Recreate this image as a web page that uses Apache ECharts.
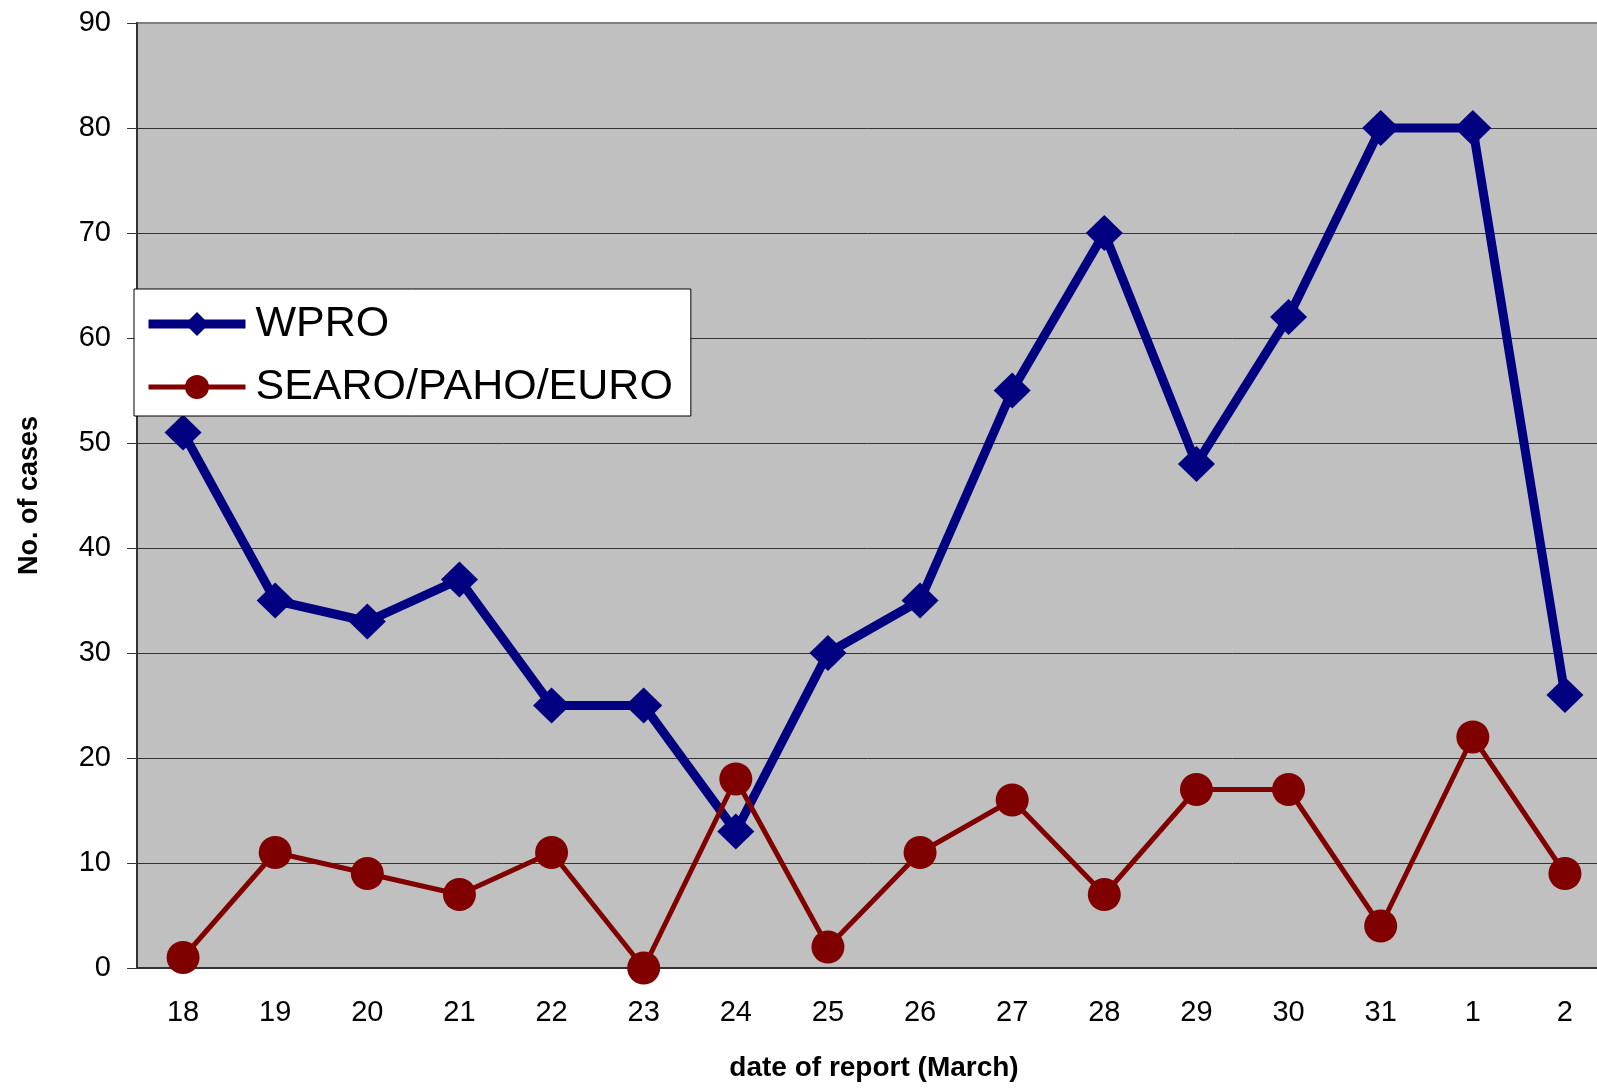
<!DOCTYPE html>
<html>
<head>
<meta charset="utf-8">
<script src="https://cdn.jsdelivr.net/npm/echarts@6/dist/echarts.min.js"></script>
<style>
  html, body { margin: 0; padding: 0; background: #fff; }
  #chart { width: 1597px; height: 1090px; }
</style>
</head>
<body>
<div id="chart"></div>
<script>
var days = ["18", "19", "20", "21", "22", "23", "24", "25", "26", "27", "28", "29", "30", "31", "1", "2"];
var wpro = [51, 35, 33, 37, 25, 25, 13, 30, 35, 55, 70, 48, 62, 80, 80, 26];
var searo = [1, 11, 9, 7, 11, 0, 18, 2, 11, 16, 7, 17, 17, 4, 22, 9];

var font = "Liberation Sans, Arial, sans-serif";
var myChart = echarts.init(document.getElementById("chart"));
var option = {
  animation: false,
  textStyle: { fontFamily: font },
  grid: {
    left: 137,
    top: 23,
    bottom: 122,
    right: -14,
    outerBoundsMode: "none",
    containLabel: false,
    show: true,
    backgroundColor: "#c0c0c0",
    borderColor: "#808080",
    borderWidth: 2,
  },
  legend: {
    orient: "vertical",
    left: 134,
    top: 289,
    backgroundColor: "#fff",
    borderColor: "#000",
    borderWidth: 1,
    borderRadius: 0,
    padding: [13, 18, 7, 10],
    itemGap: 19,
    itemWidth: 97,
    itemHeight: 30,
    data: [
      { name: "WPRO", lineStyle: { width: 9 } },
      { name: "SEARO/PAHO/EURO", lineStyle: { width: 5 } },
    ],
    textStyle: { fontSize: 43, color: "#000", fontFamily: font, lineHeight: 44, padding: [0, 0, 0, 5] },
  },
  xAxis: {
    type: "category",
    data: days,
    name: "date of report (March)",
    nameLocation: "middle",
    nameGap: 86,
    nameTextStyle: { fontSize: 28, fontWeight: "bold", color: "#000" },
    axisLine: { lineStyle: { color: "#333", width: 2 } },
    axisTick: { length: 9, lineStyle: { color: "#333", width: 1 } },
    axisLabel: { fontSize: 29, color: "#000", margin: 30 },
  },
  yAxis: {
    type: "value",
    min: 0,
    max: 90,
    interval: 10,
    name: "No. of cases",
    nameLocation: "middle",
    nameGap: 94,
    nameTextStyle: { fontSize: 27, fontWeight: "bold", color: "#000" },
    axisLine: { show: true, lineStyle: { color: "#333", width: 2 } },
    axisTick: { show: true, length: 10, lineStyle: { color: "#333", width: 1 } },
    axisLabel: { fontSize: 29, color: "#000", margin: 26 },
    splitLine: {
      lineStyle: {
        color: ["#333", "#333", "#333", "#333", "#333", "#333", "#333", "#333", "#333", "#808080"],
        width: 1,
      },
    },
  },
  series: [
    {
      name: "WPRO",
      type: "line",
      data: wpro,
      symbol: "diamond",
      symbolSize: [37, 36],
      lineStyle: { color: "#000080", width: 9 },
      itemStyle: { color: "#000080" },
    },
    {
      name: "SEARO/PAHO/EURO",
      type: "line",
      data: searo,
      symbol: "circle",
      symbolSize: 33,
      lineStyle: { color: "#800000", width: 5 },
      itemStyle: { color: "#800000" },
    },
  ],
};
myChart.setOption(option);
</script>
</body>
</html>
